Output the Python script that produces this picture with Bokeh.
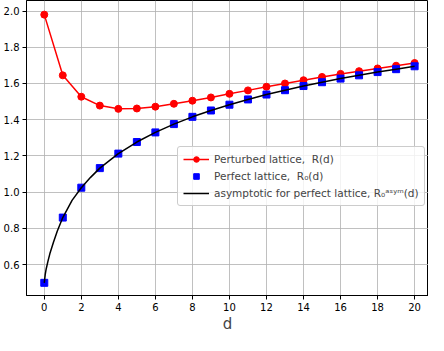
from bokeh.plotting import figure
from bokeh.models import Range1d, FixedTicker, Legend, LegendItem, CustomJSTickFormatter
from bokeh.embed import file_html
from bokeh.resources import INLINE

d = list(range(21))
R_pert = [1.98, 1.645, 1.527, 1.478, 1.460, 1.462, 1.472, 1.488, 1.505, 1.523, 1.543,
          1.562, 1.582, 1.600, 1.618, 1.636, 1.653, 1.668, 1.683, 1.698, 1.713]
R_perf = [0.50, 0.86, 1.025, 1.133, 1.213, 1.277, 1.330, 1.376, 1.416, 1.451, 1.483,
          1.512, 1.539, 1.563, 1.586, 1.607, 1.627, 1.645, 1.663, 1.679, 1.695]
d_asym = [0.0, 0.05, 0.1, 0.2, 0.3, 0.5, 0.7, 1.0, 1.5, 2.0, 2.5, 3, 4, 5, 6, 7, 8, 9, 10,
          11, 12, 13, 14, 15, 16, 17, 18, 19, 20]
R_asym = [0.50, 0.545, 0.575, 0.62, 0.66, 0.725, 0.785, 0.86, 0.955, 1.025, 1.082, 1.133,
          1.213, 1.277, 1.330, 1.376, 1.416, 1.451, 1.483, 1.512, 1.539, 1.563, 1.586,
          1.607, 1.627, 1.645, 1.663, 1.679, 1.695]
x_ticks = list(range(0, 21, 2))
y_ticks = [0.6, 0.8, 1.0, 1.2, 1.4, 1.6, 1.8, 2.0]

p = figure(width=428, height=335, output_backend="svg", toolbar_location=None,
           x_range=Range1d(-0.96, 20.75), y_range=Range1d(0.43, 2.058),
           min_border_left=5, min_border_right=0, min_border_top=0, min_border_bottom=0)
p.background_fill_color = "white"
p.outline_line_color = "black"
p.outline_line_width = 1
p.outline_line_alpha = 1

for ax in (p.xaxis[0], p.yaxis[0]):
    ax.major_label_text_font = "DejaVu Sans"
    ax.major_label_text_font_size = "10px"
    ax.major_label_text_color = "black"
    ax.major_label_standoff = 3
    ax.axis_line_color = "black"
    ax.major_tick_line_color = "black"
    ax.major_tick_out = 4
    ax.major_tick_in = 0
    ax.minor_tick_line_color = None
p.xaxis.ticker = FixedTicker(ticks=x_ticks)
p.yaxis.ticker = FixedTicker(ticks=y_ticks)
p.yaxis.formatter = CustomJSTickFormatter(code="return tick.toFixed(1);")
p.xaxis.axis_label = "d"
p.xaxis.axis_label_text_font = "DejaVu Sans"
p.xaxis.axis_label_text_font_style = "normal"
p.xaxis.axis_label_text_font_size = "15px"
p.xaxis.axis_label_standoff = 1

p.xgrid.ticker = FixedTicker(ticks=x_ticks)
p.ygrid.ticker = FixedTicker(ticks=y_ticks)
p.grid.grid_line_color = "#b0b0b0"
p.grid.grid_line_width = 1
p.grid.grid_line_alpha = 0.8

l1 = p.line(d, R_pert, line_color="red", line_width=1.5)
s1 = p.scatter(d, R_pert, marker="circle", size=7, fill_color="red", line_color="red")
s2 = p.scatter(d, R_perf, marker="square", size=7, fill_color="blue", line_color="blue")
l3 = p.line(d_asym, R_asym, line_color="black", line_width=1.5)

legend = Legend(items=[
    LegendItem(label="Perturbed lattice,  R(d)", renderers=[l1, s1]),
    LegendItem(label="Perfect lattice,  R\u2080(d)", renderers=[s2]),
    LegendItem(label="asymptotic for perfect lattice, R\u2080\u1d43\u02e2\u02b8\u1d50(d)", renderers=[l3]),
], location=(151, 89))
legend.label_text_font = "DejaVu Sans"
legend.label_text_font_size = "10.5px"
legend.label_height = 14
legend.glyph_height = 14
legend.glyph_width = 26
legend.spacing = 3
legend.padding = 5
legend.margin = 0
legend.border_line_color = "#cccccc"
legend.border_line_alpha = 1
legend.background_fill_alpha = 0.8
legend.border_radius = 3
p.add_layout(legend, "center")

open("out.html", "w").write(file_html(p, INLINE))
